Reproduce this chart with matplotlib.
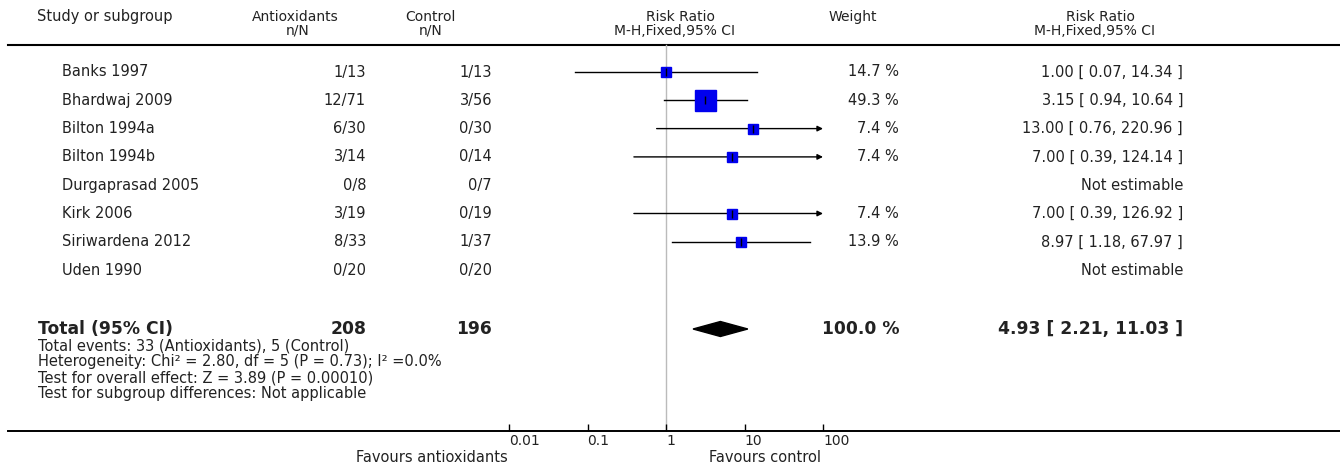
import matplotlib
matplotlib.use('Agg')
import matplotlib.pyplot as plt
from matplotlib.patches import Polygon

studies = ['Banks 1997', 'Bhardwaj 2009', 'Bilton 1994a', 'Bilton 1994b',
           'Durgaprasad 2005', 'Kirk 2006', 'Siriwardena 2012', 'Uden 1990']
ev_a = [1, 12, 6, 3, 0, 3, 8, 0]
n_a = [13, 71, 30, 14, 8, 19, 33, 20]
ev_c = [1, 3, 0, 0, 0, 0, 1, 0]
n_c = [13, 56, 30, 14, 7, 19, 37, 20]
weight = [14.7, 49.3, 7.4, 7.4, None, 7.4, 13.9, None]
rr = [1.00, 3.15, 13.00, 7.00, None, 7.00, 8.97, None]
lo = [0.07, 0.94, 0.76, 0.39, None, 0.39, 1.18, None]
hi = [14.34, 10.64, 220.96, 124.14, None, 126.92, 67.97, None]

tot_rr, tot_lo, tot_hi = 4.93, 2.21, 11.03
tot_a, tot_c = 208, 196
footnotes = ['Total events: 33 (Antioxidants), 5 (Control)',
             'Heterogeneity: Chi\u00b2 = 2.80, df = 5 (P = 0.73); I\u00b2 =0.0%',
             'Test for overall effect: Z = 3.89 (P = 0.00010)',
             'Test for subgroup differences: Not applicable']
ticks = [0.01, 0.1, 1, 10, 100]
tick_labels = ['0.01', '0.1', '1', '10', '100']

W, H = 1340, 468
fig = plt.figure(figsize=(W / 100, H / 100), dpi=100)

# text layer in pixel coordinates
tx = fig.add_axes([0, 0, 1, 1])
tx.set_xlim(0, W)
tx.set_ylim(H, 0)
tx.axis('off')

# forest axis: log x, y in pixels from the top
x1, dec = 666, 78.5
left_px, axis_y = 8, 431
ax = fig.add_axes([left_px / W, (H - axis_y) / H, (W - left_px) / W, axis_y / H])
ax.patch.set_alpha(0)
ax.set_xscale('log')
ax.set_xlim(10 ** ((left_px - x1) / dec), 10 ** ((W - x1) / dec))
ax.set_ylim(axis_y, 0)
for s in ['top', 'left', 'right']:
    ax.spines[s].set_visible(False)
ax.spines['bottom'].set_linewidth(1.4)
ax.set_yticks([])
ax.set_xticks(ticks)
ax.set_xticklabels(tick_labels, fontsize=10, color='#222222')
ax.minorticks_off()
ax.tick_params(axis='x', direction='in', length=5, width=1, pad=2)
for lab in ax.get_xticklabels():
    lab.set_ha('left')

fs = 10.5
fh = 10
col = '#222222'
tx.plot([left_px, W], [45, 45], color='black', lw=1.5)
tx.text(37, 17, 'Study or subgroup', fontsize=fs, color=col, va='center')
tx.text(295, 17, 'Antioxidants', fontsize=fh, color=col, va='center', ha='center')
tx.text(298, 31, 'n/N', fontsize=fh, color=col, va='center', ha='center')
tx.text(430, 17, 'Control', fontsize=fh, color=col, va='center', ha='center')
tx.text(431, 31, 'n/N', fontsize=fh, color=col, va='center', ha='center')
tx.text(680, 17, 'Risk Ratio', fontsize=fh, color=col, va='center', ha='center')
tx.text(675, 31, 'M-H,Fixed,95% CI', fontsize=fh, color=col, va='center', ha='center')
tx.text(853, 17, 'Weight', fontsize=fh, color=col, va='center', ha='center')
tx.text(1100, 17, 'Risk Ratio', fontsize=fh, color=col, va='center', ha='center')
tx.text(1095, 31, 'M-H,Fixed,95% CI', fontsize=fh, color=col, va='center', ha='center')

ax.plot([1, 1], [45, axis_y], color='#bbbbbb', lw=1, zorder=1)

y0, step = 72, 28.3
for i, name in enumerate(studies):
    y = y0 + i * step
    tx.text(62, y, name, fontsize=fs, color=col, va='center')
    tx.text(366, y, '%d/%d' % (ev_a[i], n_a[i]), fontsize=fs, color=col, va='center', ha='right')
    tx.text(492, y, '%d/%d' % (ev_c[i], n_c[i]), fontsize=fs, color=col, va='center', ha='right')
    if rr[i] is None:
        tx.text(1183, y, 'Not estimable', fontsize=fs, color=col, va='center', ha='right')
        continue
    tx.text(899, y, '%.1f %%' % weight[i], fontsize=fs, color=col, va='center', ha='right')
    tx.text(1183, y, '%.2f [ %.2f, %.2f ]' % (rr[i], lo[i], hi[i]),
            fontsize=fs, color=col, va='center', ha='right')
    if hi[i] > 100:
        # CI runs off the scale: arrow at the end of the axis
        ax.annotate('', xy=(100, y), xytext=(lo[i], y),
                    arrowprops=dict(arrowstyle='-|>', color='black', lw=1,
                                    mutation_scale=8, shrinkA=0, shrinkB=0))
    else:
        ax.plot([lo[i], hi[i]], [y, y], color='black', lw=1, zorder=2)
    side = max(9.5, 21 * weight[i] / 49.3)
    ax.plot(rr[i], y, marker='s', ms=side * 0.72, color='#0000ee',
            mec='#0000ee', zorder=3)
    ax.plot(rr[i], y, marker='|', ms=6, color='black', mew=1, zorder=4)

yt = 329
fb = 12.3
tx.text(38, yt, 'Total (95% CI)', fontsize=fb, fontweight='bold', color=col, va='center')
tx.text(366, yt, str(tot_a), fontsize=fb, fontweight='bold', color=col, va='center', ha='right')
tx.text(492, yt, str(tot_c), fontsize=fb, fontweight='bold', color=col, va='center', ha='right')
tx.text(900, yt, '100.0 %', fontsize=fb, fontweight='bold', color=col, va='center', ha='right')
tx.text(1183, yt, '%.2f [ %.2f, %.2f ]' % (tot_rr, tot_lo, tot_hi),
        fontsize=fb, fontweight='bold', color=col, va='center', ha='right')
ax.add_patch(Polygon([(tot_lo, yt), (tot_rr, yt - 7.5), (tot_hi, yt), (tot_rr, yt + 7.5)],
                     closed=True, color='black', zorder=3))

for k, line in enumerate(footnotes):
    tx.text(38, 346 + k * 15.8, line, fontsize=10.5, color=col, va='center')

tx.text(508, 457, 'Favours antioxidants', fontsize=fs, color=col, va='center', ha='right')
tx.text(765, 457, 'Favours control', fontsize=fs, color=col, va='center', ha='center')

fig.savefig('out.png', dpi=100)
